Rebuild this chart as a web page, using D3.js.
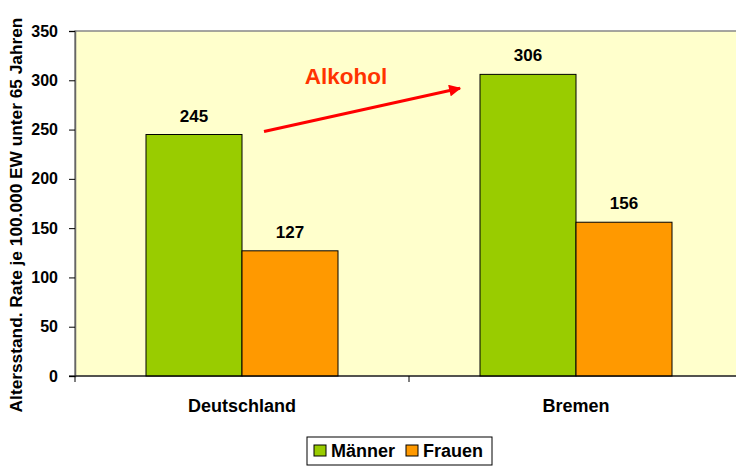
<!DOCTYPE html>
<html>
<head>
<meta charset="utf-8">
<script src="https://cdn.jsdelivr.net/npm/d3@7"></script>
<style>
  body { margin:0; background:#fff; }
  text { font-family: Arial, "Liberation Sans", sans-serif; font-weight:bold; }
</style>
</head>
<body>
<div id="chart"></div>
<script>
// data
const regions = ["Deutschland", "Bremen"];
const series = ["Männer", "Frauen"];
const maenner = [245, 306];
const frauen = [127, 156];
const yTicks = [0, 50, 100, 150, 200, 250, 300, 350];
const colors = ["#99CC00", "#FF9900"];

var W = 736, H = 466;
var margin = {top: 31, left: 75, bottom: 90};
var plotH = H - margin.top - margin.bottom; // 345

var svg = d3.select("#chart").append("svg")
  .attr("width", W).attr("height", H);

var x = d3.scaleBand().domain(regions).range([margin.left, margin.left + 668]);
var xs = d3.scaleBand().domain(series).range([0, 192]);
var y = d3.scaleLinear().domain([0, 350]).range([margin.top + plotH, margin.top]);

// plot area
svg.append("rect")
  .attr("x", margin.left).attr("y", margin.top)
  .attr("width", 700).attr("height", plotH)
  .attr("fill", "#FFFFCC").attr("stroke", "#888").attr("stroke-width", 1.5);

// bars
var rows = regions.map(function(r, i) { return {region: r, vals: [maenner[i], frauen[i]]}; });
var grp = svg.selectAll(".grp").data(rows).enter().append("g")
  .attr("transform", function(d) { return "translate(" + (x(d.region) + (x.bandwidth() - 192) / 2) + ",0)"; });

grp.selectAll("rect").data(function(d) { return d.vals.map(function(v, k) { return {s: series[k], v: v, k: k}; }); })
  .enter().append("rect")
  .attr("x", function(d) { return xs(d.s); })
  .attr("y", function(d) { return y(d.v); })
  .attr("width", xs.bandwidth())
  .attr("height", function(d) { return y(0) - y(d.v); })
  .attr("fill", function(d) { return colors[d.k]; })
  .attr("stroke", "#000").attr("stroke-width", 1);

grp.selectAll(".lbl").data(function(d) { return d.vals.map(function(v, k) { return {s: series[k], v: v}; }); })
  .enter().append("text")
  .attr("x", function(d) { return xs(d.s) + xs.bandwidth() / 2; })
  .attr("y", function(d) { return y(d.v) - 13; })
  .attr("text-anchor", "middle")
  .style("font-size", "17px")
  .text(function(d) { return d.v; });

// y axis
var yAxis = d3.axisLeft(y).tickValues(yTicks).tickSize(6).tickPadding(11);
svg.append("g")
  .attr("transform", "translate(" + margin.left + ",0)")
  .call(yAxis)
  .call(function(g) {
    g.select(".domain").attr("stroke", "#666").attr("stroke-width", 1.5);
    g.selectAll(".tick line").attr("stroke", "#000");
    g.selectAll(".tick text").style("font-size", "16px").style("font-family", "Arial, 'Liberation Sans', sans-serif").style("font-weight", "bold").attr("fill", "#000");
  });

// x axis baseline + category ticks
svg.append("line")
  .attr("x1", margin.left - 6).attr("x2", W)
  .attr("y1", y(0)).attr("y2", y(0))
  .attr("stroke", "#000").attr("stroke-width", 1.2);
[margin.left, x("Bremen")].forEach(function(px) {
  svg.append("line").attr("x1", px).attr("x2", px)
    .attr("y1", y(0)).attr("y2", y(0) + 6)
    .attr("stroke", "#000");
});
svg.selectAll(".cat").data(regions).enter().append("text")
  .attr("x", function(d) { return x(d) + x.bandwidth() / 2; })
  .attr("y", y(0) + 36)
  .attr("text-anchor", "middle")
  .style("font-size", "18px")
  .text(function(d) { return d; });

// y label
svg.append("text")
  .attr("transform", "translate(22,215) rotate(-90)")
  .attr("text-anchor", "middle")
  .style("font-size", "17.3px")
  .text("Altersstand. Rate je 100.000 EW unter 65 Jahren");

// annotation arrow
svg.append("defs").append("marker")
  .attr("id", "ah").attr("viewBox", "0 0 10 10")
  .attr("refX", 9).attr("refY", 5)
  .attr("markerWidth", 4.5).attr("markerHeight", 4)
  .attr("orient", "auto")
  .append("path").attr("d", "M0,0L10,5L0,10z").attr("fill", "#FF0000");
svg.append("line")
  .attr("x1", 264).attr("y1", y(248))
  .attr("x2", 460).attr("y2", y(292))
  .attr("stroke", "#FF0000").attr("stroke-width", 3)
  .attr("marker-end", "url(#ah)");
svg.append("text")
  .attr("x", 346).attr("y", 84)
  .attr("text-anchor", "middle")
  .attr("fill", "#FF3300")
  .style("font-size", "22.5px")
  .text("Alkohol");

// legend
var lg = svg.append("g").attr("transform", "translate(307,437)");
lg.append("rect").attr("width", 185).attr("height", 28)
  .attr("fill", "#fff").attr("stroke", "#000");
var items = lg.selectAll(".it").data(series).enter().append("g")
  .attr("transform", function(d, i) { return "translate(" + (7 + i * 92) + ",0)"; });
items.append("rect").attr("y", 8).attr("width", 12).attr("height", 11)
  .attr("fill", function(d, i) { return colors[i]; }).attr("stroke", "#000");
items.append("text").attr("x", 17).attr("y", 20)
  .style("font-size", "18px")
  .text(function(d) { return d; });
</script>
</body>
</html>
